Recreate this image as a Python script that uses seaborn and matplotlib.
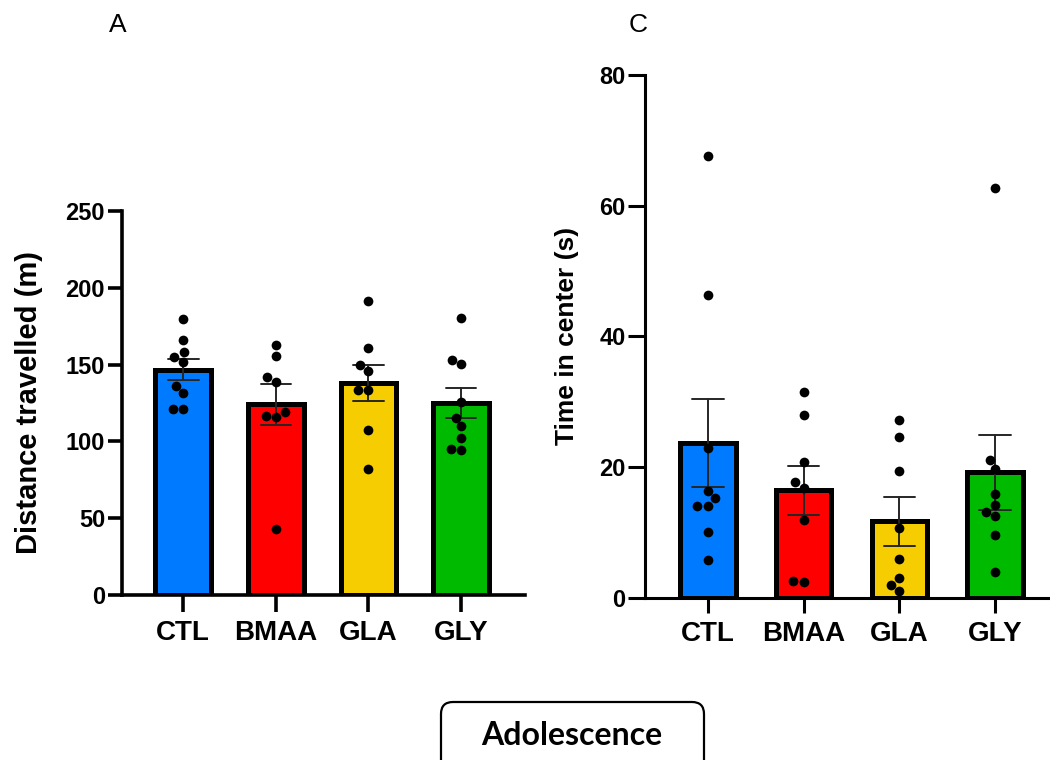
import pandas as pd
import numpy as np
from matplotlib import pyplot as plt
from matplotlib.patches import FancyBboxPatch
import seaborn as sns

groups = ['CTL', 'BMAA', 'GLA', 'GLY']
colors = ['#007BFF', '#FF0000', '#F5CD00', '#00BA00']

# distance travelled (m), one value per animal
dist_ctl = [179.8, 165.7, 158.1, 154.8, 151.8, 136.3, 131.6, 121.3, 121.3]
dist_bmaa = [162.6, 155.3, 141.6, 138.7, 118.9, 116.1, 116.5, 42.8]
dist_gla = [191.3, 160.5, 149.6, 146.1, 133.3, 133.3, 107.6, 82.2]
dist_gly = [180.2, 152.8, 150.5, 125.7, 115.3, 109.8, 102.0, 95.0, 94.1]

# time in center (s)
time_ctl = [67.6, 46.4, 22.9, 16.3, 15.2, 14.1, 14.1, 10.1, 5.7]
time_bmaa = [31.5, 27.9, 20.8, 17.7, 16.8, 11.9, 2.4, 2.5]
time_gla = [27.2, 24.6, 19.4, 10.6, 5.9, 3.0, 1.9, 1.0]
time_gly = [62.7, 21.0, 19.7, 15.8, 14.2, 13.1, 12.5, 9.6, 4.0]


def long_df(*cols):
    rows = []
    for g, vals in zip(groups, cols):
        for v in vals:
            rows.append({'group': g, 'value': v})
    return pd.DataFrame(rows)


df_dist = long_df(dist_ctl, dist_bmaa, dist_gla, dist_gly)
df_time = long_df(time_ctl, time_bmaa, time_gla, time_gly)

sns.set_style('ticks', rc={'axes.edgecolor': 'black', 'text.color': 'black',
                           'axes.labelcolor': 'black', 'xtick.color': 'black',
                           'ytick.color': 'black'})
plt.rcParams['font.family'] = ['Liberation Sans', 'DejaVu Sans']

fig = plt.figure(figsize=(10.5, 7.6), dpi=100)
ax1 = fig.add_axes([0.1159, 0.2171, 0.384, 0.5053])
ax2 = fig.add_axes([0.6143, 0.2136, 0.3838, 0.6877])


def panel(ax, df, width, spine_w, ylen, xlen):
    sns.barplot(data=df, x='group', y='value', hue='group', order=groups,
                hue_order=groups, palette=colors, legend=False, saturation=1,
                errorbar='se', capsize=0.33, width=width,
                edgecolor='black', linewidth=3.6,
                err_kws={'color': '#262626', 'linewidth': 1.4}, ax=ax)
    sns.swarmplot(data=df, x='group', y='value', order=groups, color='black',
                  size=7, ax=ax, zorder=4)
    sns.despine(ax=ax)
    for s in ['left', 'bottom']:
        ax.spines[s].set_linewidth(spine_w)
    ax.tick_params(axis='y', width=spine_w, length=ylen, pad=2, labelsize=17)
    ax.tick_params(axis='x', width=spine_w, length=xlen, pad=6, labelsize=20)
    for lab in ax.get_xticklabels() + ax.get_yticklabels():
        lab.set_fontweight('bold')
    ax.set_xlabel('')


panel(ax1, df_dist, 0.6, 2.6, 10, 12)
ax1.set_ylim(0, 250)
ax1.set_yticks(np.arange(0, 251, 50))
ax1.set_xlim(-0.665, 3.69)
ax1.set_ylabel('Distance travelled (m)', fontsize=21, fontweight='bold')
ax1.yaxis.set_label_coords(-0.195, 0.5)

panel(ax2, df_time, 0.58, 2.2, 12, 11)
ax2.set_ylim(0, 80)
ax2.set_yticks(np.arange(0, 81, 20))
ax2.set_xlim(-0.654, 3.55)
ax2.set_ylabel('Time in center (s)', fontsize=19, fontweight='bold')
ax2.yaxis.set_label_coords(-0.165, 0.5)

fig.text(118 / 1050, 1 - 25 / 760, 'A', fontsize=19, ha='center', va='center',
         family=['Liberation Sans Narrow', 'Liberation Sans'])
fig.text(638 / 1050, 1 - 25 / 760, 'C', fontsize=19, ha='center', va='center',
         family=['Liberation Sans Narrow', 'Liberation Sans'])

box = FancyBboxPatch((4.41, -0.5), 2.63, 1.08, boxstyle='round,pad=0,rounding_size=0.12',
                     transform=fig.dpi_scale_trans, facecolor='white',
                     edgecolor='black', linewidth=1.6, clip_on=False)
fig.patches.append(box)
fig.text(572 / 1050, 15 / 760, 'Adolescence', fontsize=23, fontweight='bold',
         ha='center', va='baseline', family=['Lato', 'DejaVu Sans'])

fig.savefig('out.png', dpi=100)
